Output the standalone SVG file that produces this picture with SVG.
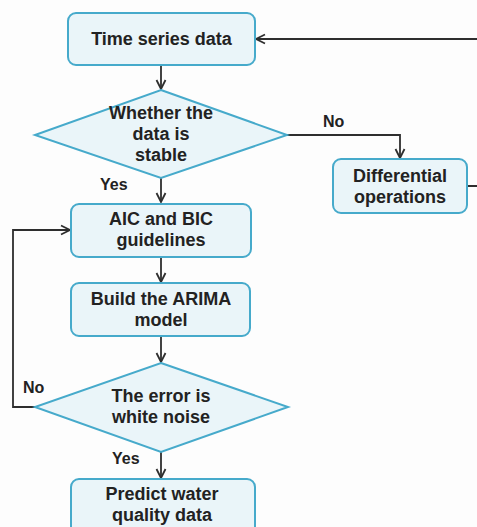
<svg xmlns="http://www.w3.org/2000/svg" width="477" height="527" viewBox="0 0 477 527">
<defs>
<style>
.box{fill:#eaf5f9;stroke:#46aacb;stroke-width:2}
.t{font-family:"Liberation Sans",Arial,sans-serif;font-weight:bold;font-size:18px;fill:#222;text-anchor:middle}
.lb{font-family:"Liberation Sans",Arial,sans-serif;font-weight:bold;font-size:16px;fill:#222}
.c{fill:none;stroke:#2e2e2e;stroke-width:1.8}
</style>
<marker id="ar" viewBox="0 0 12 12" refX="11" refY="6" markerWidth="12" markerHeight="12" markerUnits="userSpaceOnUse" orient="auto">
<path d="M2,1.5 L11,6 L2,10.5" fill="none" stroke="#2e2e2e" stroke-width="1.8"/>
</marker>
</defs>
<rect width="477" height="527" fill="#fdfdfd"/>
<g id="connectors">
<path class="c" d="M161,65 V89" marker-end="url(#ar)"/>
<path class="c" d="M287,135 H400 V158" marker-end="url(#ar)"/>
<path class="c" d="M467,186 H484 V39 H256" marker-end="url(#ar)"/>
<path class="c" d="M161,178 V202" marker-end="url(#ar)"/>
<path class="c" d="M161,257 V282" marker-end="url(#ar)"/>
<path class="c" d="M161,336 V362" marker-end="url(#ar)"/>
<path class="c" d="M35,407 H13 V230 H70" marker-end="url(#ar)"/>
<path class="c" d="M161,452 V478" marker-end="url(#ar)"/>
<text class="lb" x="323" y="127">No</text>
<text class="lb" x="100" y="190">Yes</text>
<text class="lb" x="23" y="393">No</text>
<text class="lb" x="112" y="464">Yes</text>
</g>
<g id="n1">
<rect class="box" x="68" y="13" width="187" height="52" rx="8"/>
<text class="t" x="161.5" y="45">Time series data</text>
</g>
<g id="n2">
<polygon class="box" points="161,90 287,135 161,178 35,135"/>
<text class="t" x="161" y="119">Whether the</text>
<text class="t" x="161" y="140">data is</text>
<text class="t" x="161" y="161">stable</text>
</g>
<g id="n3">
<rect class="box" x="333" y="159" width="134" height="54" rx="8"/>
<text class="t" x="400" y="182">Differential</text>
<text class="t" x="400" y="203">operations</text>
</g>
<g id="n4">
<rect class="box" x="71" y="204" width="180" height="53" rx="8"/>
<text class="t" x="161" y="225">AIC and BIC</text>
<text class="t" x="161" y="246">guidelines</text>
</g>
<g id="n5">
<rect class="box" x="71" y="283" width="179" height="53" rx="8"/>
<text class="t" x="161" y="305">Build the ARIMA</text>
<text class="t" x="161" y="326">model</text>
</g>
<g id="n6">
<polygon class="box" points="161,363 288,407 161,452 35,407"/>
<text class="t" x="161" y="402">The error is</text>
<text class="t" x="161" y="423">white noise</text>
</g>
<g id="n7">
<rect class="box" x="71" y="479" width="184" height="60" rx="8"/>
<text class="t" x="162" y="500">Predict water</text>
<text class="t" x="162" y="521">quality data</text>
</g>
</svg>
